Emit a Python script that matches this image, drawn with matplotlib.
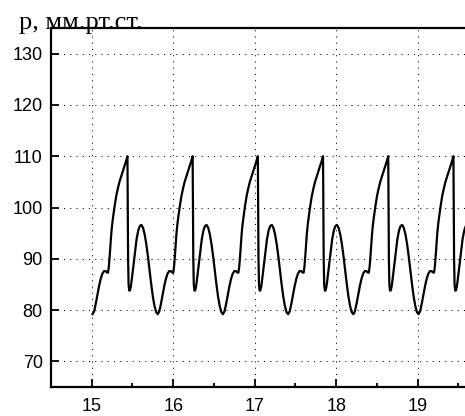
"""Pressure waveform, p (mm Hg) vs time."""

import matplotlib
matplotlib.use("Agg")
import matplotlib.pyplot as plt
import numpy as np

# one cardiac cycle (tau in s from the minimum, p in mm Hg)
cycle_tau = [0.00, 0.02, 0.04, 0.06, 0.08, 0.10, 0.12, 0.14, 0.16, 0.18,
             0.19, 0.20, 0.21, 0.22, 0.23, 0.24, 0.25, 0.27, 0.29, 0.31,
             0.33, 0.35, 0.37, 0.39, 0.41, 0.428, 0.432, 0.436, 0.442, 0.45,
             0.458, 0.47, 0.48, 0.50, 0.52, 0.54, 0.56, 0.58, 0.60, 0.62,
             0.64, 0.66, 0.68, 0.70, 0.72, 0.74, 0.76, 0.78]
cycle_p = [79.2, 79.8, 81.3, 83.0, 84.7, 86.1, 87.1, 87.6, 87.6, 87.3,
           87.3, 88.5, 90.5, 92.8, 95.0, 96.6, 97.9, 100.2, 102.2, 103.7,
           105.0, 106.0, 107.0, 108.0, 109.0, 110.0, 100.0, 90.0, 85.0, 83.8,
           83.8, 84.6, 85.8, 88.5, 91.3, 93.8, 95.5, 96.4, 96.6, 96.0,
           94.7, 92.8, 90.4, 87.7, 85.0, 82.6, 80.8, 79.6]
period = 0.8
t_start = 15.01
n_cycles = 6

x_ticks = [15, 16, 17, 18, 19]
y_ticks = [70, 80, 90, 100, 110, 120, 130]
y_label = "р, мм.рт.ст."

t = np.concatenate([np.array(cycle_tau) + t_start + k * period for k in range(n_cycles)])
p = np.tile(cycle_p, n_cycles)

fig = plt.figure(figsize=(4.65, 4.16), dpi=100)
fig.patch.set_facecolor("white")
ax = fig.add_axes([51 / 465, 1 - 387 / 416, 1 - 51 / 465, (387 - 28) / 416])

ax.plot(t, p, color="black", lw=1.6, solid_joinstyle="round")

ax.set_xlim(14.5, 19.58)
ax.set_ylim(65, 135)
ax.set_xticks(x_ticks)
ax.set_xticks(np.array(x_ticks) + 0.5, minor=True)
ax.set_yticks(y_ticks)

ax.grid(True, which="major", color="black", lw=0.75, linestyle=(0, (1, 5)))
ax.tick_params(which="major", direction="in", length=6, width=1.3,
               labelsize=13, pad=6)
ax.tick_params(axis="x", which="major", pad=8)
ax.tick_params(which="minor", direction="in", length=3, width=1.3)
ax.tick_params(axis="y", which="minor", left=False)
for lab in ax.get_xticklabels() + ax.get_yticklabels():
    lab.set_family("Liberation Sans")

for s in ["left", "bottom", "top"]:
    ax.spines[s].set_linewidth(1.6)
ax.spines["right"].set_visible(False)

fig.text(19 / 465, 1 - 29 / 416, y_label, family="Liberation Serif",
         fontsize=19, va="baseline", ha="left")

fig.savefig("out.png", dpi=100)
